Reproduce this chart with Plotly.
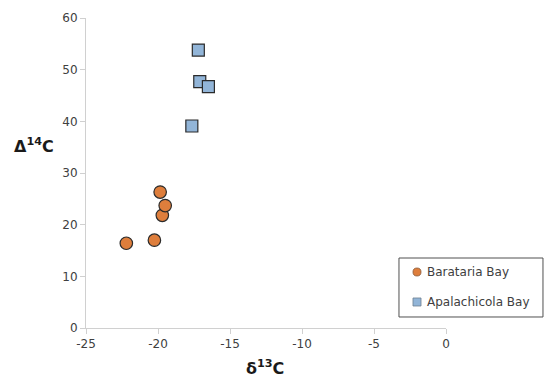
import plotly.graph_objects as go

bar_x = [-22.2, -20.25, -19.7, -19.5, -19.85]
bar_y = [16.4, 17.0, 21.8, 23.7, 26.3]
apa_x = [-17.2, -17.1, -16.5, -17.65]
apa_y = [53.8, 47.7, 46.7, 39.1]
x_ticks = [-25, -20, -15, -10, -5, 0]
x_tick_labels = ["-25", "-20", "-15", "-10", "-5", "0"]
y_ticks = [0, 10, 20, 30, 40, 50, 60]
series_names = ["Barataria Bay", "Apalachicola Bay"]
colors = ["#DE7E3C", "#92B5D8"]

FONT = "DejaVu Sans"
TXT = "#404040"
fig = go.Figure()
fig.add_trace(go.Scatter(
    x=bar_x, y=bar_y, mode="markers", name=series_names[0], showlegend=False,
    marker=dict(symbol="circle", size=12.5, color=colors[0],
                line=dict(color="#2b2b2b", width=1.2))))
fig.add_trace(go.Scatter(
    x=apa_x, y=apa_y, mode="markers", name=series_names[1], showlegend=False,
    marker=dict(symbol="square", size=12, color=colors[1],
                line=dict(color="#2b2b2b", width=1.2))))

axis_common = dict(showgrid=False, zeroline=False, showline=True, linecolor="#d0d0d0",
                   linewidth=1, ticks="outside", tickcolor="#d0d0d0", ticklen=5,
                   tickfont=dict(family=FONT, size=12, color=TXT))
fig.update_xaxes(range=[-25, 0], tickvals=x_ticks, ticktext=x_tick_labels, **axis_common)
fig.update_yaxes(range=[0, 60], tickvals=y_ticks, **axis_common)

# custom legend (paper coordinates)
shapes = [
    dict(type="rect", xref="paper", yref="paper", x0=0.8694, x1=1.2694, y0=0.0355, y1=0.2258,
         line=dict(color="#505050", width=1), fillcolor="white", layer="above"),
    dict(type="circle", xref="paper", yref="paper", x0=0.9083, x1=0.9306, y0=0.1677, y1=0.1935,
         line=dict(color="#8a5a3a", width=0.8), fillcolor=colors[0], layer="above"),
    dict(type="rect", xref="paper", yref="paper", x0=0.9083, x1=0.9306, y0=0.071, y1=0.0968,
         line=dict(color="#6d7f90", width=0.8), fillcolor=colors[1], layer="above"),
]
annotations = [
    dict(text=series_names[0], xref="paper", yref="paper", x=0.9417, y=0.1806,
         xanchor="left", yanchor="middle", showarrow=False,
         font=dict(family=FONT, size=12, color=TXT)),
    dict(text=series_names[1], xref="paper", yref="paper", x=0.9417, y=0.0839,
         xanchor="left", yanchor="middle", showarrow=False,
         font=dict(family=FONT, size=12, color=TXT)),
    dict(text="<b>Δ<sup>14</sup>C</b>", xref="paper", yref="paper", x=-0.206, y=0.59,
         xanchor="left", yanchor="middle", showarrow=False,
         font=dict(family=FONT, size=16, color="#1a1a1a")),
    dict(text="<b>δ<sup>13</sup>C</b>", xref="paper", yref="paper", x=0.497, y=-0.128,
         xanchor="center", yanchor="middle", showarrow=False,
         font=dict(family=FONT, size=16, color="#1a1a1a")),
]

fig.update_layout(
    width=544, height=379, autosize=False,
    margin=dict(l=86, r=98, t=18, b=51),
    plot_bgcolor="white", paper_bgcolor="white",
    font=dict(family=FONT, color=TXT),
    showlegend=False,
    shapes=shapes, annotations=annotations,
)
fig.write_html("out.html")
